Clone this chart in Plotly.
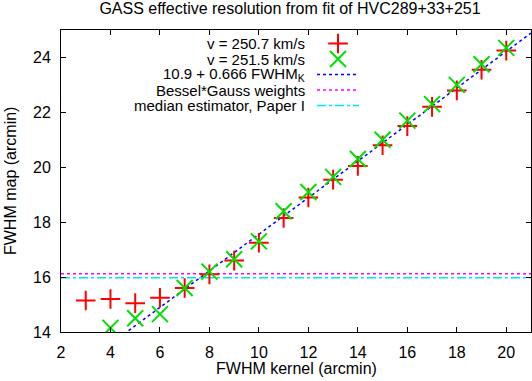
import numpy as np
import plotly.graph_objects as go

# measured FWHM of the map vs kernel FWHM (arcmin)
kernel_a = [3, 4, 5, 6, 7, 8, 9, 10, 11, 12, 13, 14, 15, 16, 17, 18, 19, 20]
map_a = [15.15, 15.2, 15.05, 15.25, 15.6, 16.1, 16.6, 17.25, 18.15, 18.9,
         19.55, 20.05, 20.8, 21.5, 22.2, 22.8, 23.55, 24.25]

kernel_b = [4, 5, 6, 7, 8, 9, 10, 11, 12, 13, 14, 15, 16, 17, 18, 19, 20]
map_b = [14.15, 14.5, 14.65, 15.6, 16.2, 16.65, 17.3, 18.4, 19.1, 19.65,
         20.3, 21.0, 21.7, 22.3, 23.0, 23.75, 24.35]

fit_a, fit_b = 10.9, 0.666
bessel_level = 16.12
median_level = 15.98

x_range = [2, 21]
y_range = [14, 25]

labels = ["v = 250.7 km/s", "v = 251.5 km/s", "10.9 + 0.666 FWHM<sub>K</sub>",
          "Bessel*Gauss weights", "median estimator, Paper I"]

FONT = "Liberation Sans, Arial, sans-serif"
FS = 16
RED, GREEN, BLUE, MAGENTA, CYAN = "#ff0000", "#00e000", "#0000ff", "#ff00ff", "#00e5e5"

fig = go.Figure()

xs = np.array(x_range, dtype=float)
fig.add_trace(go.Scatter(x=xs, y=fit_a + fit_b * xs, mode="lines",
                         line=dict(color=BLUE, width=1.5, dash="dot")))
fig.add_trace(go.Scatter(x=xs, y=[bessel_level] * 2, mode="lines",
                         line=dict(color=MAGENTA, width=1.5, dash="dot")))
fig.add_trace(go.Scatter(x=xs, y=[median_level] * 2, mode="lines",
                         line=dict(color=CYAN, width=1.5, dash="dashdot")))
fig.add_trace(go.Scatter(x=kernel_a, y=map_a, mode="markers",
                         marker=dict(symbol="cross-thin", size=14,
                                     line=dict(color=RED, width=2))))
fig.add_trace(go.Scatter(x=kernel_b, y=map_b, mode="markers",
                         marker=dict(symbol="x-thin", size=16,
                                     line=dict(color=GREEN, width=2))))

# legend drawn by hand on a pixel overlay (gnuplot style: text left, sample right)
rows = [43.5, 59, 74.5, 90, 105.5]
text_right = 307
sample_x = [317, 359]
fig.add_trace(go.Scatter(x=[338], y=[rows[0]], xaxis="x2", yaxis="y2", mode="markers",
                         marker=dict(symbol="cross-thin", size=14, line=dict(color=RED, width=2))))
fig.add_trace(go.Scatter(x=[338], y=[rows[1]], xaxis="x2", yaxis="y2", mode="markers",
                         marker=dict(symbol="x-thin", size=16, line=dict(color=GREEN, width=2))))
for row, color, dash in [(rows[2], BLUE, "dot"), (rows[3], MAGENTA, "dot"), (rows[4], CYAN, "dashdot")]:
    fig.add_trace(go.Scatter(x=sample_x, y=[row, row], xaxis="x2", yaxis="y2", mode="lines",
                             line=dict(color=color, width=1.5, dash=dash)))
for row, label in zip(rows, labels):
    fig.add_annotation(x=text_right, y=row, xref="x2", yref="y2", text=label,
                       showarrow=False, xanchor="right", yanchor="middle",
                       font=dict(family=FONT, size=15, color="black"))

# axis titles as annotations so the margins stay fixed
fig.add_annotation(x=0.5, y=-0.1225, xref="paper", yref="paper", text="FWHM kernel (arcmin)",
                   showarrow=False, xanchor="center", yanchor="middle",
                   font=dict(family=FONT, size=FS, color="black"))
fig.add_annotation(x=-0.1085, y=0.5, xref="paper", yref="paper",
                   text="FWHM map (arcmin)", textangle=-90,
                   showarrow=False, xanchor="center", yanchor="middle",
                   font=dict(family=FONT, size=FS, color="black"))

axis_style = dict(showgrid=False, zeroline=False, showline=True, linecolor="black",
                  linewidth=1, mirror="ticks", ticks="inside", ticklen=5,
                  tickcolor="black", automargin=False,
                  tickfont=dict(family=FONT, size=FS, color="black"))

fig.update_layout(
    width=532, height=381,
    margin=dict(l=61, r=1, t=30, b=49, autoexpand=False),
    paper_bgcolor="white", plot_bgcolor="white",
    showlegend=False,
    title=dict(text="GASS effective resolution from fit of HVC289+33+251",
               x=290 / 532, xanchor="center", y=1 - 8.5 / 381, yanchor="middle",
               font=dict(family=FONT, size=FS, color="black")),
    xaxis=dict(range=x_range, dtick=2, ticklabelstandoff=6, **axis_style),
    yaxis=dict(range=y_range, dtick=2, ticklabelstandoff=6, **axis_style),
    xaxis2=dict(range=[61, 531], overlaying="x", visible=False, fixedrange=True),
    yaxis2=dict(range=[332, 30], overlaying="y", visible=False, fixedrange=True),
)

# the page's default body margin would shift the fixed-size figure
fig.write_html("out.html", config={"displayModeBar": False},
               post_script="document.body.style.margin='0';")
